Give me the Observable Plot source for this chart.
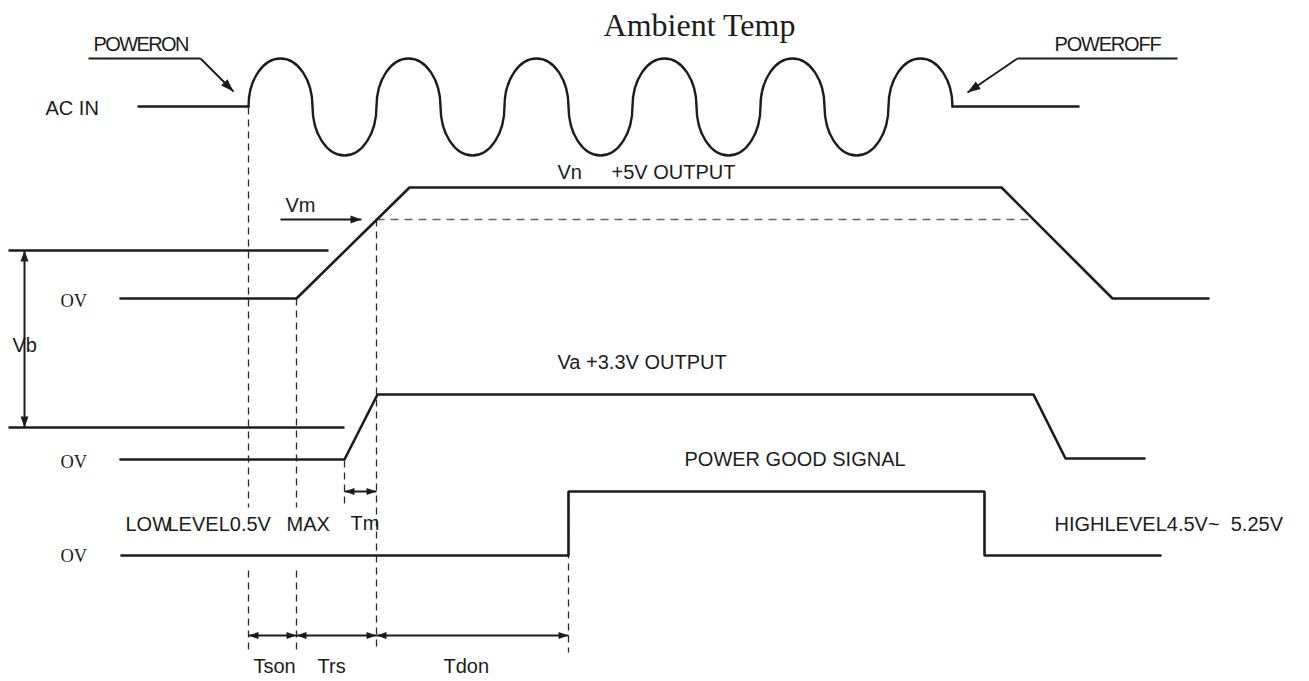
<!DOCTYPE html>
<html>
<head>
<meta charset="utf-8">
<script src="https://cdn.jsdelivr.net/npm/d3@7"></script>
<script src="https://cdn.jsdelivr.net/npm/@observablehq/plot@0.6"></script>
<style>
  html, body { margin: 0; padding: 0; background: #fff; overflow: hidden; }
  svg { display: block; }
</style>
</head>
<body>
<script>
// ---- Diagram data (time axis in drawing units, level axis top-down) ----
// AC input: flat lead-in / lead-out and the alternating wave vertices
const acLeadX = [138, 248];
const acTailX = [952, 1078];
const acLevel = 106;
const waveX = [248,280,312,344,376,408,440,472,504,536,568,600,632,664,696,728,760,792,824,856,888,920,952];
const waveY = [106,58,106,155,106,58,106,155,106,58,106,155,106,58,106,155,106,58,106,155,106,58,106];

// +5V output rail
const rail5X = [120, 296, 409, 1001, 1112, 1208];
const rail5Y = [298, 298, 187, 187, 298, 298];
// +3.3V output rail
const rail33X = [120, 344, 377, 1033, 1065, 1144];
const rail33Y = [459, 459, 394, 394, 458, 458];
// Power good signal
const pgX = [121, 568, 568, 984, 984, 1160];
const pgY = [555, 555, 491, 491, 555, 555];

// Vb reference levels
const vbRefs = [
  {x1: 8, x2: 328, y: 250},
  {x1: 8, x2: 344, y: 427}
];
// Vm threshold (dashed)
const vmLevel = {x1: 376, x2: 1032, y: 219};

// Dashed timing markers
const markers = [
  {x: 248, y1: 107, y2: 507}, {x: 248, y1: 570, y2: 652},
  {x: 296, y1: 298, y2: 507}, {x: 296, y1: 570, y2: 652},
  {x: 376, y1: 219, y2: 650},
  {x: 344, y1: 460, y2: 503},
  {x: 568, y1: 491, y2: 652}
];

// Leader lines for POWER ON / OFF callouts
const leaders = [
  {x1: 88, y1: 58, x2: 200, y2: 58},
  {x1: 1177, y1: 58, x2: 1017, y2: 58}
];
// Arrows
const arrows = [
  {x1: 200, y1: 58, x2: 233, y2: 91, heads: "end", len: 13, wid: 9},
  {x1: 1017, y1: 58, x2: 967, y2: 92, heads: "end", len: 13, wid: 9},
  {x1: 280, y1: 219, x2: 361, y2: 219, heads: "end", len: 11, wid: 8},
  {x1: 24, y1: 250, x2: 24, y2: 427, heads: "both", len: 11, wid: 8},
  {x1: 344, y1: 491, x2: 376, y2: 491, heads: "both", len: 10, wid: 7},
  {x1: 248, y1: 635, x2: 296, y2: 635, heads: "both", len: 10, wid: 7},
  {x1: 296, y1: 635, x2: 376, y2: 635, heads: "both", len: 10, wid: 7},
  {x1: 376, y1: 635, x2: 568, y2: 635, heads: "both", len: 10, wid: 7}
];

// Labels
const powerLabels = [
  {x: 93, y: 44, t: "POWERON", ls: -1.1},
  {x: 1054, y: 44, t: "POWEROFF", ls: -0.8}
];
const sansLabels = [
  {x: 45, y: 108, t: "AC IN"},
  {x: 557, y: 172, t: "Vn"}, {x: 611, y: 172, t: "+5V OUTPUT"},
  {x: 285, y: 205, t: "Vm"},
  {x: 12, y: 345, t: "Vb"},
  {x: 557, y: 362, t: "Va +3.3V OUTPUT"},
  {x: 684, y: 459, t: "POWER GOOD SIGNAL"},
  {x: 125, y: 524, t: "LOW"}, {x: 167, y: 524, t: "LEVEL0.5V"}, {x: 286, y: 524, t: "MAX"},
  {x: 350, y: 523, t: "Tm"},
  {x: 1054, y: 524, t: "HIGHLEVEL4.5V~  5.25V"},
  {x: 253, y: 666, t: "Tson"}, {x: 317, y: 666, t: "Trs"}, {x: 443, y: 666, t: "Tdon"}
];
const zeroLabels = [
  {x: 60, y: 301, t: "OV"}, {x: 60, y: 462, t: "OV"}, {x: 60, y: 556, t: "OV"}
];
const titleLabel = [{x: 699, y: 25, t: "Ambient Temp"}];

// ---- helpers ----
const pts = (xs, ys) => xs.map((x, i) => ({x, y: ys[i]}));

// quarter-ellipse curve: alternates crossing -> extremum -> crossing
const K = 0.5523;
function ellipseCurve(context) {
  let p = [];
  return {
    areaStart() {}, areaEnd() {},
    lineStart() { p = []; },
    point(x, y) { p.push([+x, +y]); },
    lineEnd() {
      if (!p.length) return;
      context.moveTo(p[0][0], p[0][1]);
      for (let i = 1; i < p.length; i++) {
        const [x0, y0] = p[i - 1], [x1, y1] = p[i];
        if (i % 2 === 1) context.bezierCurveTo(x0, y0 + K * (y1 - y0), x1 - K * (x1 - x0), y1, x1, y1);
        else context.bezierCurveTo(x0 + K * (x1 - x0), y0, x1, y1 - K * (y1 - y0), x1, y1);
      }
    }
  };
}

// arrowhead symbol: tip at origin pointing up
function headSymbol(len, wid) {
  return {
    draw(ctx) {
      ctx.moveTo(0, 0);
      ctx.lineTo(-wid / 2, len);
      ctx.lineTo(wid / 2, len);
      ctx.closePath();
    }
  };
}
function headsFor(a) {
  const out = [];
  const ang = Math.atan2(a.x2 - a.x1, -(a.y2 - a.y1)) * 180 / Math.PI;
  out.push({x: a.x2, y: a.y2, r: ang, len: a.len, wid: a.wid});
  if (a.heads === "both") out.push({x: a.x1, y: a.y1, r: ang + 180, len: a.len, wid: a.wid});
  return out;
}
const headGroups = d3.groups(arrows.flatMap(headsFor), d => `${d.len}-${d.wid}`);

const INK = "#1c1c1c";
const sans = "Liberation Sans, Arial, sans-serif";
const serif = "Liberation Serif, Times New Roman, serif";

const plot = Plot.plot({
  width: 1309,
  height: 681,
  margin: 0,
  x: {domain: [0, 1309], range: [0, 1309], axis: null},
  y: {domain: [0, 681], range: [0, 681], axis: null},
  style: {background: "#fff"},
  marks: [
    // dashed markers
    Plot.link(markers, {x1: "x", x2: "x", y1: "y1", y2: "y2", stroke: "#2a2a2a", strokeWidth: 1.3, strokeDasharray: "7,5"}),
    Plot.link([vmLevel], {x1: "x1", x2: "x2", y1: "y", y2: "y", stroke: "#666", strokeWidth: 1.4, strokeDasharray: "8,6"}),
    // AC input
    Plot.line(pts(acLeadX, [acLevel, acLevel]), {x: "x", y: "y", stroke: INK, strokeWidth: 2.4}),
    Plot.line(pts(acTailX, [acLevel, acLevel]), {x: "x", y: "y", stroke: INK, strokeWidth: 2.4}),
    Plot.line(pts(waveX, waveY), {x: "x", y: "y", stroke: INK, strokeWidth: 2.4, curve: ellipseCurve}),
    // rails
    Plot.line(pts(rail5X, rail5Y), {x: "x", y: "y", stroke: INK, strokeWidth: 2.6, strokeLinejoin: "miter"}),
    Plot.line(pts(rail33X, rail33Y), {x: "x", y: "y", stroke: INK, strokeWidth: 2.6, strokeLinejoin: "miter"}),
    Plot.line(pts(pgX, pgY), {x: "x", y: "y", stroke: INK, strokeWidth: 2.6, strokeLinejoin: "miter"}),
    // Vb references
    Plot.link(vbRefs, {x1: "x1", x2: "x2", y1: "y", y2: "y", stroke: INK, strokeWidth: 2.3}),
    // leaders and arrow shafts
    Plot.link(leaders, {x1: "x1", x2: "x2", y1: "y1", y2: "y2", stroke: INK, strokeWidth: 2.2}),
    Plot.link(arrows, {x1: "x1", x2: "x2", y1: "y1", y2: "y2", stroke: INK, strokeWidth: 2}),
    // arrow heads
    ...headGroups.map(([k, g]) => Plot.dot(g, {x: "x", y: "y", rotate: "r", r: 5, symbol: headSymbol(g[0].len, g[0].wid), fill: INK, stroke: "none"})),
    // labels
    ...powerLabels.map(d => Plot.text([d], {x: "x", y: "y", text: "t", textAnchor: "start", fontSize: 20, fontFamily: sans, fill: INK, style: {letterSpacing: `${d.ls}px`}})),
    Plot.text(sansLabels, {x: "x", y: "y", text: "t", textAnchor: "start", fontSize: 20, fontFamily: sans, fill: INK}),
    Plot.text(zeroLabels, {x: "x", y: "y", text: "t", textAnchor: "start", fontSize: 18.5, fontFamily: serif, fill: INK}),
    Plot.text(titleLabel, {x: "x", y: "y", text: "t", textAnchor: "middle", fontSize: 32, fontFamily: serif, fill: INK})
  ]
});
// apply letter spacing to the callout labels
plot.querySelectorAll("text").forEach(t => {
  if (t.textContent === "POWERON") t.setAttribute("letter-spacing", "-1.6");
  if (t.textContent === "POWEROFF") t.setAttribute("letter-spacing", "-1.2");
});
document.body.appendChild(plot);
</script>
</body>
</html>
